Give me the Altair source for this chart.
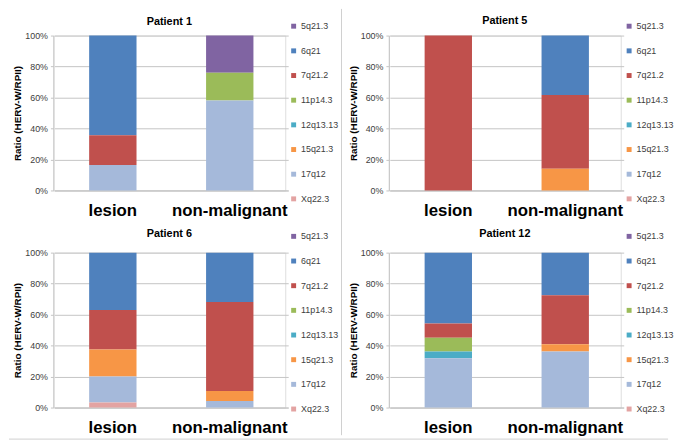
import altair as alt
import pandas as pd

patients = ["Patient 1", "Patient 5", "Patient 6", "Patient 12"]
samples = ["lesion", "non-malignant"]
loci = ["5q21.3", "6q21", "7q21.2", "11p14.3", "12q13.13", "15q21.3", "17q12", "Xq22.3"]
colors = ["#8064A2", "#4F81BD", "#C0504D", "#9BBB59", "#4BACC6", "#F79646", "#A5B9DA", "#E3A3A2"]

# percentage of each locus (same order as loci)
p1_lesion = [0, 64.3, 19.2, 0, 0, 0, 16.5, 0]
p1_nonmal = [24.0, 0, 0, 18.0, 0, 0, 58.0, 0]
p5_lesion = [0, 0, 100, 0, 0, 0, 0, 0]
p5_nonmal = [0, 38.4, 47.6, 0, 0, 14.0, 0, 0]
p6_lesion = [0, 37.1, 25.4, 0, 0, 17.4, 16.9, 3.2]
p6_nonmal = [0, 31.8, 57.6, 0, 0, 6.4, 4.2, 0]
p12_lesion = [0, 45.7, 9.2, 9.0, 4.3, 0, 31.8, 0]
p12_nonmal = [0, 27.5, 31.7, 0, 0, 4.7, 36.1, 0]

series = {
    "Patient 1": (p1_lesion, p1_nonmal),
    "Patient 5": (p5_lesion, p5_nonmal),
    "Patient 6": (p6_lesion, p6_nonmal),
    "Patient 12": (p12_lesion, p12_nonmal),
}

rows = []
for p in patients:
    for s, vals in zip(samples, series[p]):
        for i, (loc, v) in enumerate(zip(loci, vals)):
            rows.append({"patient": p, "sample": s, "locus": loc,
                         "value": v / 100.0, "rank": len(loci) - 1 - i})
df = pd.DataFrame(rows)

FONT = "Liberation Sans"
GRID = "#C4C4C4"
W, H = 235, 157
LEG_Y = [-14, -14, -21, -21]
TITLE_OFF = [-5, -18, -7, -7]


def panel(p, idx):
    d = df[df.patient == p]
    bars = alt.Chart(d).mark_bar(size=48).encode(
        x=alt.X("sample:N", sort=samples,
                scale=alt.Scale(domain=samples, paddingInner=0, paddingOuter=0,
                                range=[1, 238]),
                axis=alt.Axis(title=None, labelAngle=0, labelFontSize=17, labelFont=FONT,
                              labelFontWeight="bold", labelColor="black", ticks=False,
                              labelPadding=12, domainColor=GRID, grid=False)),
        y=alt.Y("value:Q", stack="zero", scale=alt.Scale(domain=[0, 1], nice=False),
                axis=alt.Axis(title="Ratio (HERV-W/RPII)", format="%",
                              values=[0, 0.2, 0.4, 0.6, 0.8, 1.0],
                              titleFontSize=10, titleFontWeight="bold", titleFont=FONT,
                              titleColor="black", titleX=-31, titleY=H / 2,
                              titleBaseline="bottom", titleAngle=270,
                              labelFontSize=9, labelFont=FONT, labelColor="#404040",
                              labelPadding=3, tickSize=3, tickColor=GRID,
                              domainColor=GRID, gridColor=GRID)),
        color=alt.Color("locus:N", scale=alt.Scale(domain=loci, range=colors),
                        legend=alt.Legend(title=None, orient="none", legendX=239,
                                          legendY=LEG_Y[idx],
                                          symbolType="square", symbolSize=25,
                                          symbolStrokeWidth=0, labelFontSize=9,
                                          labelFont=FONT, labelColor="#404040",
                                          rowPadding=15, labelOffset=3, padding=0)),
        order=alt.Order("rank:Q"),
    )
    layers = [bars]
    one = pd.DataFrame({"a": [0]})
    if idx == 1:
        layers.append(alt.Chart(one).mark_rule(color="#CFCFCF", strokeWidth=1).encode(
            x=alt.value(-48), y=alt.value(-27), y2=alt.value(405)))
    if idx == 2:
        layers.append(alt.Chart(one).mark_rule(color="#CFCFCF", strokeWidth=1).encode(
            x=alt.value(-45), x2=alt.value(623), y=alt.value(189)))
    return alt.layer(*layers).properties(
        width=W, height=H,
        title=alt.TitleParams(p, fontSize=11, fontWeight="bold", font=FONT,
                              color="black", offset=TITLE_OFF[idx], anchor="middle"),
    )


chart = alt.concat(
    *[panel(p, i) for i, p in enumerate(patients)],
    columns=2, spacing={"row": 63, "column": 105}, bounds="flush",
).resolve_scale(color="independent").resolve_legend(color="independent").properties(
    padding={"top": -3, "left": 0, "right": 0, "bottom": 0}
).configure_view(strokeWidth=0).configure(font=FONT)

chart.save("out.html", embed_options={"renderer": "svg", "actions": False})
